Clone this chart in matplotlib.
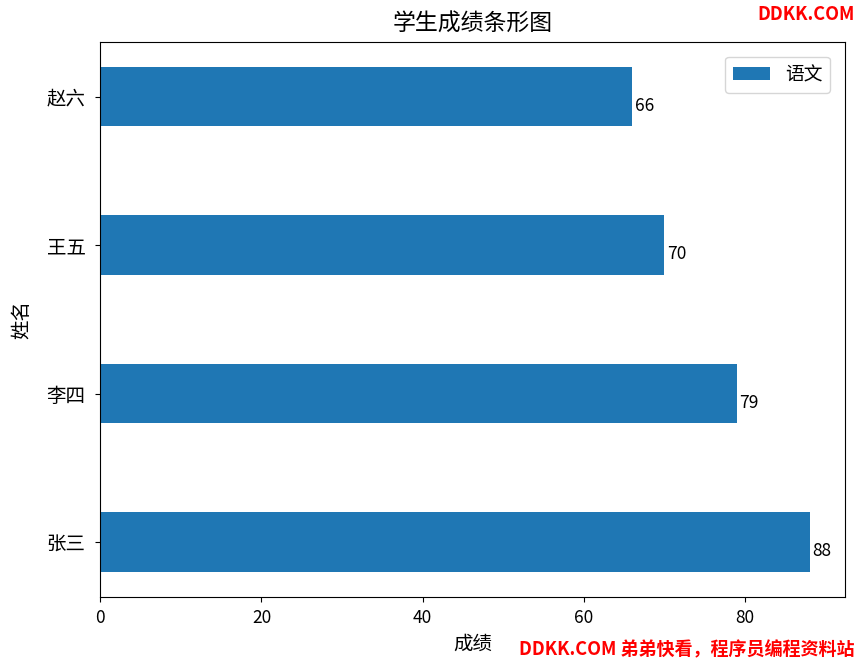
import matplotlib
matplotlib.use('Agg')
import matplotlib.pyplot as plt

plt.rcParams['font.family'] = ['Noto Sans CJK SC', 'DejaVu Sans']
plt.rcParams['axes.unicode_minus'] = False

# 数据
names = ['张三', '李四', '王五', '赵六']
scores = [88, 79, 70, 66]

fig = plt.figure(figsize=(8.57, 6.62), dpi=100)
ax = fig.add_axes([0.117, 0.098, 0.869, 0.839])

ax.barh(names, scores, height=0.4, color='#1f77b4', label='语文')

# 数值标签
for i, v in enumerate(scores):
    ax.text(v + 0.3, i - 0.06, str(v), ha='left', va='center', fontsize=12.5)

ax.set_title('学生成绩条形图', fontsize=16.5, pad=8)
ax.set_xlabel('成绩', fontsize=14, labelpad=5)
ax.set_ylabel('姓名', fontsize=14, labelpad=10)
ax.tick_params(axis='x', labelsize=12.5, pad=5)
ax.tick_params(axis='y', labelsize=14, pad=7)
ax.legend(fontsize=13.5, loc='upper right', borderaxespad=0.8)

# 水印
fig.text(0.997, 0.978, 'DDKK.COM', color='red', fontsize=13, fontweight='bold',
         ha='right', va='center')
fig.text(0.997, 0.018, 'DDKK.COM 弟弟快看，程序员编程资料站', color='red', fontsize=13,
         fontweight='bold', ha='right', va='center')

fig.savefig('out.png', dpi=100)
